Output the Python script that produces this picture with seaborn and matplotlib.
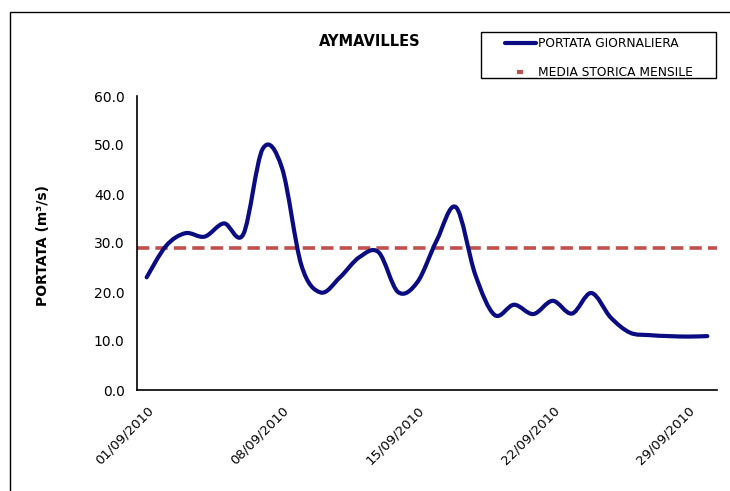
import numpy as np
import pandas as pd
import matplotlib.pyplot as plt
import seaborn as sns
from matplotlib.path import Path
from matplotlib.patches import PathPatch, Rectangle
from matplotlib.lines import Line2D

# ==============================
# DATA
# ==============================

date = pd.date_range("2010-09-01", "2010-09-30", freq="D")
portata = [23.0, 29.4, 32.0, 31.3, 34.0, 31.8, 49.2, 45.3, 25.5, 19.9,
           23.0, 27.1, 28.1, 20.0, 22.0, 30.5, 37.3, 23.5, 15.3, 17.4,
           15.5, 18.2, 15.6, 19.8, 14.8, 11.7, 11.2, 11.0, 10.9, 11.0]
media_storica = 29.0
label_days = ["01/09/2010", "08/09/2010", "15/09/2010", "22/09/2010", "29/09/2010"]
y_ticks = [0, 10, 20, 30, 40, 50, 60]

df = pd.DataFrame({"giorno": np.arange(1, len(date) + 1), "portata": portata})

# ==============================
# STYLE
# ==============================

sns.set_style("white")
plt.rcParams["font.family"] = ["DejaVu Sans"]
plt.rcParams["text.color"] = "black"
plt.rcParams["xtick.color"] = "black"
plt.rcParams["ytick.color"] = "black"

navy = "#0b0b82"
red = "#c0504d"

fig = plt.figure(figsize=(7.3, 4.91), dpi=100)
ax = fig.add_axes([137 / 730, 1 - 390 / 491, (717 - 137) / 730, (390 - 96) / 491])

# smoothed line (Excel-like bezier through every daily value)
x = df["giorno"].to_numpy(dtype=float)
y = df["portata"].to_numpy(dtype=float)
px = np.concatenate([[x[0]], x, [x[-1]]])
py = np.concatenate([[y[0]], y, [y[-1]]])
verts = [(x[0], y[0])]
codes = [Path.MOVETO]
for i in range(1, len(x)):
    p0 = np.array([px[i - 1], py[i - 1]])
    p1 = np.array([px[i], py[i]])
    p2 = np.array([px[i + 1], py[i + 1]])
    p3 = np.array([px[i + 2], py[i + 2]])
    c1 = p1 + (p2 - p0) / 6
    c2 = p2 - (p3 - p1) / 6
    verts += [tuple(c1), tuple(c2), tuple(p2)]
    codes += [Path.CURVE4] * 3
curve = PathPatch(Path(verts, codes), fill=False, edgecolor=navy, lw=3,
                  capstyle="round", joinstyle="round", zorder=3)
ax.add_patch(curve)

ax.axhline(media_storica, color=red, lw=2.6, dashes=(3.4, 1.7), zorder=2)

# ==============================
# AXES
# ==============================

ax.set_xlim(0.5, len(date) + 0.5)
ax.set_ylim(0, 60)
ax.set_yticks(y_ticks)
ax.set_yticklabels([f"{v:.1f}" for v in y_ticks], fontsize=10)

ax.set_xticks(np.arange(0.5, len(date), 7))
ax.set_xticklabels([])
ax.set_xticks([1, 8, 15, 22, 29], minor=True)
ax.set_xticklabels(label_days, minor=True, rotation=45, ha="right", va="top",
                   rotation_mode="anchor", fontsize=9.5)
ax.tick_params(axis="x", which="major", direction="out", length=5, width=1, color="black")
ax.tick_params(axis="x", which="minor", length=0, pad=10)
ax.tick_params(axis="y", direction="out", length=5, width=1, color="black", pad=4)

sns.despine(ax=ax)
for s in ["left", "bottom"]:
    ax.spines[s].set_color("black")
    ax.spines[s].set_linewidth(1.2)
ax.grid(False)

# ==============================
# TEXTS, LEGEND, BORDER
# ==============================

fig.text(370 / 730, 1 - 42 / 491, "AYMAVILLES", ha="center", va="center",
         fontsize=10.5, fontweight="bold")
fig.text(43 / 730, 1 - 246 / 491, "PORTATA (m³/s)", ha="center", va="center",
         rotation=90, fontsize=10, fontweight="bold")

handles = [Line2D([], [], color=navy, lw=3),
           Line2D([], [], ls="none", marker="_", markersize=5, mew=3, color=red)]
fig.legend(handles, ["PORTATA GIORNALIERA", "MEDIA STORICA MENSILE"],
           loc="upper left", bbox_to_anchor=(505 / 730, 1 - 37 / 491),
           frameon=False, fontsize=8.8, handlelength=2.5, handletextpad=0.2,
           borderpad=0, borderaxespad=0, labelspacing=1.35)
fig.add_artist(Rectangle((481 / 730, 1 - 78 / 491), (716 - 481) / 730, 46 / 491,
                         transform=fig.transFigure, fill=False, ec="black", lw=1))
fig.add_artist(Rectangle((10 / 730, -0.1), 1.0, 1 - 12 / 491 + 0.1,
                         transform=fig.transFigure, fill=False, ec="black", lw=1))

plt.savefig("out.png", dpi=100)
